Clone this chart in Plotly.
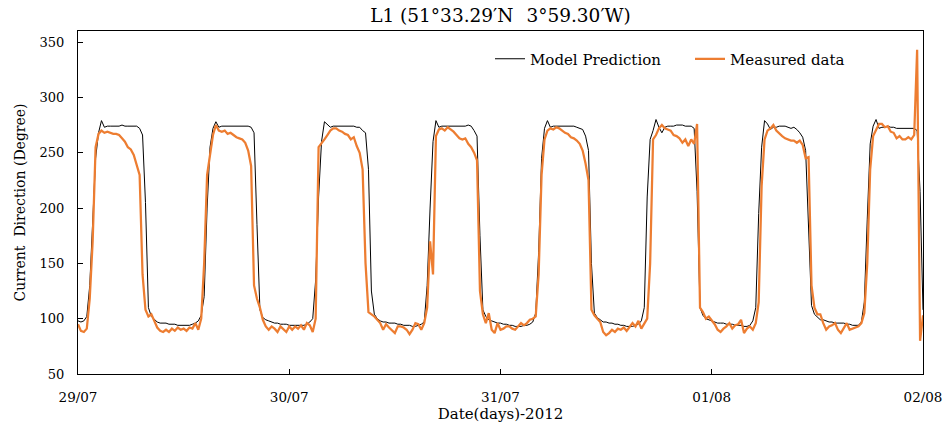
import pandas as pd
import plotly.graph_objects as go

# ---- data (sampled every 20 minutes from 29/07/2012 00:00 to 02/08/2012 00:00) ----
START = "2012-07-29 00:00"
END = "2012-08-02 00:00"
STEP = "20min"

model_prediction = [
    98, 97, 98, 102, 130, 190, 245, 268, 279, 273,
    274, 274, 274, 274, 274, 275, 274, 274, 274, 274,
    274, 272, 266, 205, 110, 102, 99, 97, 96, 96,
    96, 95, 95, 95, 94, 94, 94, 94, 94, 95,
    96, 98, 103, 120, 200, 255, 272, 278, 273, 274,
    274, 274, 274, 274, 274, 274, 274, 274, 274, 273,
    268, 185, 108, 101, 99, 98, 97, 96, 96, 95,
    95, 95, 94, 94, 94, 94, 94, 94, 95, 97,
    100, 135, 210, 260, 278, 275, 273, 274, 274, 274,
    274, 274, 274, 274, 274, 273, 273, 270, 268, 235,
    125, 104, 100, 98, 97, 97, 96, 96, 96, 95,
    95, 94, 94, 94, 93, 93, 94, 95, 97, 130,
    200, 260, 279, 273, 274, 274, 274, 274, 274, 274,
    274, 274, 274, 275, 274, 270, 265, 175, 108, 102,
    99, 98, 97, 96, 96, 95, 95, 94, 94, 93,
    93, 93, 94, 94, 95, 97, 105, 160, 245, 272,
    279, 273, 274, 274, 274, 274, 274, 274, 274, 274,
    273, 272, 271, 265, 252, 150, 105, 101, 99, 97,
    97, 96, 96, 95, 95, 94, 94, 93, 93, 93,
    94, 95, 98, 110, 210, 262, 270, 280, 273, 268,
    273, 274, 274, 274, 275, 275, 275, 274, 274, 274,
    272, 215, 110, 103, 100, 99, 98, 97, 96, 96,
    96, 95, 95, 95, 94, 94, 94, 93, 93, 94,
    98, 110, 195, 255, 279, 276, 271, 273, 273, 274,
    274, 274, 273, 272, 273, 271, 268, 264, 252, 180,
    112, 104, 101, 99, 99, 98, 97, 97, 96, 96,
    96, 96, 95, 95, 94, 94, 94, 97, 115, 190,
    258, 274, 280, 272, 273, 273, 274, 273, 273, 272,
    272, 272, 272, 272, 272, 272, 270, 215, 108,
]

measured_data = [
    95, 89, 88, 91, 118, 170, 255, 267, 270, 268,
    269, 268, 267, 267, 266, 263, 260, 255, 253, 248,
    240, 230, 140, 108, 102, 104, 98, 92, 89, 88,
    90, 88, 91, 89, 92, 90, 91, 89, 92, 91,
    96, 90, 100, 150, 230, 250, 266, 275, 270, 269,
    270, 267, 268, 266, 264, 263, 262, 259, 252, 238,
    130, 118, 110, 99, 93, 90, 93, 91, 88, 93,
    90, 88, 93, 90, 93, 91, 94, 90, 96, 94,
    88, 100, 255, 258, 262, 266, 270, 272, 272, 270,
    269, 267, 266, 262, 264, 256, 250, 235, 150, 106,
    104, 102, 99, 96, 90, 95, 92, 89, 87, 93,
    93, 92, 90, 86, 90, 96, 95, 90, 96, 110,
    170, 140, 265, 271, 272, 270, 273, 271, 269, 266,
    263, 262, 263, 258, 255, 250, 243, 125, 104, 96,
    105, 90, 87, 96, 90, 91, 93, 93, 91, 90,
    93, 96, 94, 96, 99, 100, 102, 140, 230, 262,
    270, 272, 271, 273, 272, 270, 268, 267, 264, 263,
    261, 258, 252, 240, 225, 108, 103, 100, 97, 88,
    85, 87, 90, 88, 91, 90, 92, 89, 93, 96,
    93, 98, 91, 96, 100, 150, 262, 266, 272, 275,
    272, 271, 270, 266, 265, 263, 259, 262, 256, 262,
    258, 276, 110, 106, 100, 102, 99, 95, 90, 88,
    91, 93, 96, 91, 94, 95, 99, 87, 91, 93,
    90, 96, 115, 220, 262, 270, 272, 275, 270, 267,
    265, 263, 262, 261, 261, 259, 261, 257, 245, 246,
    130, 110, 104, 104, 96, 90, 93, 94, 96, 90,
    87, 92, 96, 90, 91, 92, 93, 96, 105, 150,
    235, 265, 270, 276, 276, 273, 274, 269, 268, 263,
    265, 262, 262, 264, 262, 266, 343, 80, 103,
]

x_tick_labels = ["29/07", "30/07", "31/07", "01/08", "02/08"]
y_ticks = [50, 100, 150, 200, 250, 300, 350]

times = pd.date_range(START, periods=len(model_prediction), freq=STEP)
day_ticks = pd.date_range(START, END, freq="D")

FONT = "DejaVu Serif"

fig = go.Figure()
fig.add_trace(go.Scatter(
    x=times, y=model_prediction, mode="lines", name="Model Prediction",
    line=dict(color="#000000", width=1),
))
fig.add_trace(go.Scatter(
    x=times, y=measured_data, mode="lines", name="Measured data",
    line=dict(color="#ED7D31", width=2.25),
))

fig.update_layout(
    width=946, height=425,
    margin=dict(l=78, r=23, t=31, b=51, autoexpand=False),
    paper_bgcolor="white", plot_bgcolor="white",
    font=dict(family=FONT, color="#000000", size=13),
    title=dict(
        text="L1 (51°33.29′N\u2002\u20093°59.30′W)",
        x=0.5, xref="paper", xanchor="center",
        y=1 - 16 / 425, yref="container", yanchor="middle",
        font=dict(family=FONT, size=18.5, color="#000000"),
    ),
    showlegend=True,
    legend=dict(
        orientation="h", x=(490 - 78) / 845, xanchor="left",
        y=(374 - 59) / 343, yanchor="middle",
        font=dict(family=FONT, size=15, color="#000000"),
        bgcolor="rgba(0,0,0,0)", borderwidth=0,
        entrywidth=155, entrywidthmode="pixels",
    ),
    xaxis=dict(
        type="date", range=[START, END], automargin=False,
        tickvals=day_ticks, ticktext=x_tick_labels,
        ticks="inside", ticklen=5, tickwidth=1, tickcolor="#000000",
        showline=True, linecolor="#000000", linewidth=1, mirror=True,
        showgrid=False, zeroline=False,
        tickfont=dict(family=FONT, size=13.5),
        ticklabelstandoff=11,
        title=dict(text="Date(days)-2012", font=dict(family=FONT, size=15), standoff=4),
    ),
    yaxis=dict(
        range=[50, 360], tickvals=y_ticks, automargin=False,
        ticks="inside", ticklen=5, tickwidth=1, tickcolor="#000000",
        showline=True, linecolor="#000000", linewidth=1, mirror=True,
        showgrid=False, zeroline=False,
        tickfont=dict(family=FONT, size=13),
        ticklabelstandoff=10,
        title=dict(text="Current\u00a0 Direction (Degree)", font=dict(family=FONT, size=14), standoff=10),
    ),
)

fig.write_html("out.html")
